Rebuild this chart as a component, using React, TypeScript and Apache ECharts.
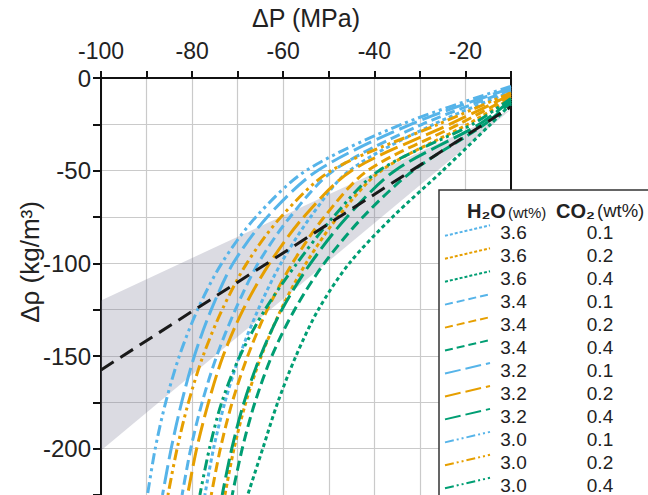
import React, { useEffect, useRef } from 'react';
import * as echarts from 'echarts';

// Density change levels (kg/m3) at which the pressure of each curve is read
const rhoLevels = [-25, -50, -75, -100, -125, -150, -175, -200, -225];
const edgePressure = -10;

// Pressure change (MPa) of each curve at rhoLevels
const p36_01 = [-27, -45.5, -54, -60.5, -65.5, -69.6, -72.8, -75.3, -77.2];
const p36_02 = [-19.5, -38.5, -48, -55, -60.5, -64.8, -68.2, -70.8, -72.8];
const p36_04 = [-14.5, -25, -36, -45.5, -52.3, -57.2, -61.2, -64.5, -67.8];
const p34_01 = [-29.5, -49, -58.5, -65.5, -70.5, -74.6, -77.8, -80.3, -82.2];
const p34_02 = [-21.5, -41.5, -51, -58, -63.5, -67.8, -71.2, -73.8, -75.8];
const p34_04 = [-15.8, -31.5, -42.5, -51, -57.5, -62.5, -66.2, -69, -71.2];
const p32_01 = [-32, -52.5, -63.5, -71, -75.8, -79.5, -82.3, -84.6, -86.5];
const p32_02 = [-23.5, -45, -55.5, -63, -68.8, -73.2, -76.4, -79, -81];
const p32_04 = [-17, -35.5, -46, -54, -60.3, -65, -68.6, -71.3, -73.4];
const p30_01 = [-34, -55, -66, -73.5, -78.8, -82.8, -85.8, -88.1, -89.8];
const p30_02 = [-26, -49.5, -60.5, -68, -73.4, -77.6, -80.8, -83.3, -85.3];
const p30_04 = [-18.5, -39, -49, -57, -64, -69.5, -73.5, -76.2, -78.3];

// Density change of each curve at the right edge (ΔP = -10 MPa)
const rhoAtEdge = [-7.5, -11, -14, -6.5, -10, -13, -5.5, -9, -12, -4.5, -8, -11];

const h2oLabels = ['3.6', '3.6', '3.6', '3.4', '3.4', '3.4', '3.2', '3.2', '3.2', '3.0', '3.0', '3.0'];
const co2Labels = ['0.1', '0.2', '0.4', '0.1', '0.2', '0.4', '0.1', '0.2', '0.4', '0.1', '0.2', '0.4'];
const curvePressures = [p36_01, p36_02, p36_04, p34_01, p34_02, p34_04, p32_01, p32_02, p32_04, p30_01, p30_02, p30_04];

// Trend line and grey band
const trendPressure = [-100, -10];
const trendRho = [-157.5, -15.5];
const bandVertices = [[-100, -120], [-10, -17], [-100, -201]];

const xTicks = [-100, -80, -60, -40, -20];

const BLUE = '#56B4E9';
const ORANGE = '#E69F00';
const GREEN = '#009E73';
const colorByCo2: Record<string, string> = { '0.1': BLUE, '0.2': ORANGE, '0.4': GREEN };
const dashByH2o: Record<string, number[]> = {
  '3.6': [4, 3],
  '3.4': [10, 5],
  '3.2': [19, 6],
  '3.0': [11, 4, 3, 4, 3, 4],
};
const legendDashByH2o: Record<string, number[]> = {
  '3.6': [3, 2],
  '3.4': [8, 4],
  '3.2': [16, 5],
  '3.0': [9, 3, 2, 3, 2, 3],
};

const FONT = '"Liberation Sans", Arial, Helvetica, sans-serif';

export default function App() {
  const ref = useRef<HTMLDivElement>(null);
  useEffect(() => {
    if (!ref.current) return;
    const chart = echarts.init(ref.current, null, { renderer: 'svg' });

    const curveSeries = curvePressures.map((ps, i) => {
      const data: number[][] = [[edgePressure, rhoAtEdge[i]]];
      ps.forEach((p, k) => data.push([p, rhoLevels[k]]));
      return {
        type: 'line',
        name: h2oLabels[i] + '/' + co2Labels[i],
        data,
        showSymbol: false,
        symbol: 'none',
        smooth: 0.3,
        clip: true,
        z: 3,
        lineStyle: {
          color: colorByCo2[co2Labels[i]],
          width: 3,
          type: dashByH2o[h2oLabels[i]],
          cap: 'butt',
        },
      };
    });

    const txt = (text: string, x: number, y: number, size: number, bold = false, align = 'left', z = 101) => ({
      type: 'text',
      x,
      y,
      z,
      style: {
        text,
        fontSize: size,
        fontFamily: FONT,
        fontWeight: bold ? 'bold' : 'normal',
        fill: '#222',
        align,
        verticalAlign: 'middle',
        textAlign: align,
        textVerticalAlign: 'middle',
      },
    });

    const legendEls: any[] = [];
    legendEls.push({
      type: 'rect',
      shape: { x: 439, y: 190, width: 230, height: 330 },
      style: { fill: '#fff', stroke: '#333', lineWidth: 1.5 },
      z: 100,
    });
    legendEls.push(txt('H₂O', 467, 211, 20, true));
    legendEls.push(txt('(wt%)', 508, 212, 15));
    legendEls.push(txt('CO₂', 556, 211, 20, true));
    legendEls.push(txt('(wt%)', 597, 210, 18.5));
    h2oLabels.forEach((h, i) => {
      const y = 232.8 + i * 22.95;
      legendEls.push({
        type: 'line',
        z: 101,
        shape: { x1: 445, y1: y + 3, x2: 490, y2: y - 7.5 },
        style: {
          stroke: colorByCo2[co2Labels[i]],
          lineWidth: 2,
          lineDash: legendDashByH2o[h],
        },
      });
      legendEls.push(txt(h, 513.5, y, 19, false, 'center'));
      legendEls.push(txt(co2Labels[i], 600, y, 19, false, 'center'));
    });

    // y-axis title
    const yTitle: any = txt('Δρ (kg/m³)', 30, 262, 26, false, 'center', 50);
    yTitle.rotation = Math.PI / 2;

    const option: any = {
      animation: false,
      backgroundColor: '#fff',
      textStyle: { fontFamily: FONT },
      grid: { left: 101, right: 137, top: 75, bottom: -3, containLabel: false },
      xAxis: {
        type: 'value',
        position: 'top',
        min: -100,
        max: -10,
        interval: 10,
        name: 'ΔP (MPa)',
        nameLocation: 'middle',
        nameGap: 48,
        nameTextStyle: { fontSize: 25, color: '#222', fontFamily: FONT },
        axisLine: { show: true, onZero: false, lineStyle: { color: '#111', width: 2 } },
        axisTick: { show: true, length: 7, lineStyle: { color: '#111', width: 2 } },
        axisLabel: {
          fontSize: 23,
          color: '#222',
          margin: 16,
          fontFamily: FONT,
          formatter: (v: number) => (xTicks.indexOf(v) >= 0 ? String(v) : ''),
        },
        splitLine: { show: true, lineStyle: { color: '#cacaca', width: 1.2 } },
      },
      yAxis: [
        {
          type: 'value',
          min: -225,
          max: 0,
          interval: 25,
          axisLine: { show: true, onZero: false, lineStyle: { color: '#111', width: 2 } },
          axisTick: { show: true, length: 8, lineStyle: { color: '#111', width: 2 } },
          axisLabel: {
            fontSize: 24,
            color: '#222',
            margin: 10,
            fontFamily: FONT,
            formatter: (v: number) => (v % 50 === 0 ? String(v) : ''),
          },
          splitLine: { show: true, lineStyle: { color: '#cacaca', width: 1.2 } },
        },
        {
          type: 'value',
          position: 'right',
          min: -225,
          max: 0,
          interval: 25,
          axisLine: { show: true, onZero: false, lineStyle: { color: '#111', width: 2 } },
          axisTick: { show: false },
          axisLabel: { show: false },
          splitLine: { show: false },
        },
      ],
      series: [
        {
          type: 'custom',
          silent: true,
          clip: true,
          z: 1,
          data: bandVertices,
          encode: { x: 0, y: 1 },
          renderItem: (params: any, api: any) => {
            if (params.dataIndex !== 0) return null;
            const pts = bandVertices.map((p) => api.coord(p));
            return {
              type: 'polygon',
              shape: { points: pts },
              style: { fill: 'rgba(125,125,150,0.28)' },
            };
          },
        },
        ...curveSeries,
        {
          type: 'line',
          name: 'trend',
          data: trendPressure.map((p, i) => [p, trendRho[i]]),
          showSymbol: false,
          symbol: 'none',
          z: 4,
          lineStyle: { color: '#1a1a1a', width: 3, type: [15, 8] },
        },
      ],
      graphic: { elements: [yTitle, ...legendEls] },
    };
    chart.setOption(option);
    return () => chart.dispose();
  }, []);

  return (
    <div
      ref={ref}
      style={{ position: 'absolute', left: 0, top: 0, width: 648, height: 495, background: '#fff' }}
    />
  );
}
